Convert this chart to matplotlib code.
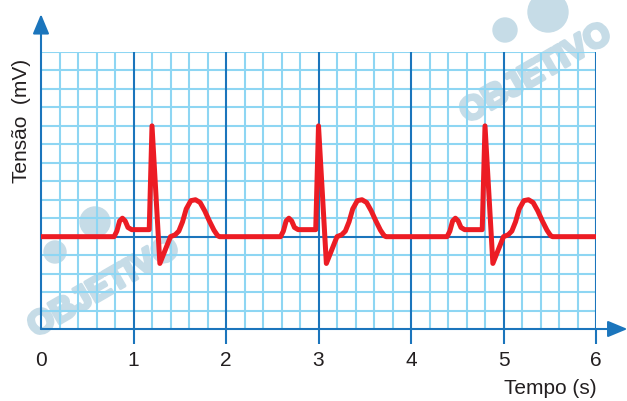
"""ECG trace on millimetre-style grid: tensão (mV) against tempo (s)."""
import matplotlib

matplotlib.use("Agg")
import matplotlib.pyplot as plt
import matplotlib.patheffects as pe
from matplotlib.patches import Circle

# One heartbeat, times relative to the R peak (s), values in grid divisions
BEAT_OFFSETS = [-0.41, -0.38, -0.35, -0.32, -0.29, -0.26, -0.22, -0.03, 0.0,
                0.085, 0.20, 0.25, 0.29, 0.33, 0.37, 0.42, 0.47, 0.52, 0.57,
                0.62, 0.67, 0.71, 0.73]
BEAT_VALUES = [0.0, 0.3, 0.85, 1.0, 0.85, 0.5, 0.38, 0.38, 6.0,
               -1.45, 0.0, 0.1, 0.3, 0.8, 1.5, 1.95, 2.0, 1.85, 1.4,
               0.85, 0.35, 0.05, 0.0]
R_PEAK_TIMES = [1.2, 3.0, 4.8]
X_TICKS = [0, 1, 2, 3, 4, 5, 6]

RED = "#ec1c24"
DARK_BLUE = "#1b75bc"
LIGHT_BLUE = "#8ed6f3"
MARK = "#c6dce7"

W, H = 627, 401


def px(x, y):
    """Pixel position (from top-left) to figure fraction."""
    return x / W, 1 - y / H


fig = plt.figure(figsize=(W / 100, H / 100), dpi=100)
left, bottom = px(41, 329)
ax = fig.add_axes([left, bottom, 555 / W, 277 / H])
ax.patch.set_visible(False)
ax.set_xlim(0, 6)
ax.set_ylim(-5, 10)
for s in ax.spines.values():
    s.set_visible(False)

# grid
for i in range(31):
    x = i * 0.2
    if i % 5 == 0:
        continue
    ax.plot([x, x], [-5, 10], color=LIGHT_BLUE, lw=1.5, zorder=1, solid_capstyle="butt")
for y in range(-4, 11):
    if y == 0:
        continue
    ax.plot([0, 6], [y, y], color=LIGHT_BLUE, lw=1.5, zorder=1, solid_capstyle="butt")
ax.plot([0, 6], [0, 0], color=DARK_BLUE, lw=1.5, zorder=2)
for x in X_TICKS[1:]:
    ax.plot([x, x], [-5, 10], color=DARK_BLUE, lw=1.5, zorder=2, solid_capstyle="butt")

# axes with arrows
arrow = dict(arrowstyle="-|>,head_length=1.2,head_width=0.5", color=DARK_BLUE,
             lw=1.5, shrinkA=0, shrinkB=0)
ax.annotate("", xy=(0, 12.05), xytext=(0, -5), arrowprops=arrow,
            annotation_clip=False, zorder=3)
ax.annotate("", xy=(6.34, -5), xytext=(0, -5), arrowprops=arrow,
            annotation_clip=False, zorder=3)

# ECG trace
t = [0.0]
v = [0.0]
for r in R_PEAK_TIMES:
    t += [r + o for o in BEAT_OFFSETS]
    v += BEAT_VALUES
t.append(6.0)
v.append(0.0)
ax.plot(t, v, color=RED, lw=3.6, zorder=5, solid_joinstyle="round",
        solid_capstyle="butt")

ax.set_xticks(X_TICKS)
ax.set_xticklabels([str(x) for x in X_TICKS], fontsize=15, family="Liberation Sans",
                   color="#231f20")
ax.tick_params(axis="x", length=11, width=1.5, color=DARK_BLUE, pad=5)
ax.xaxis.get_major_ticks()[0].tick1line.set_visible(False)
ax.set_yticks([])

fig.text(*px(597, 389), "Tempo (s)", ha="right", va="center", fontsize=15,
         family="Liberation Sans", color="#231f20")
fig.text(*px(22, 121), "Tensão  (mV)", ha="center", va="center", rotation=90,
         fontsize=15, family="Liberation Sans", color="#231f20")

# "OBJETIVO" watermarks
thick = [pe.withStroke(linewidth=2.5, foreground=MARK)]
for (cx, cy), size in (((104, 288), 24), ((536, 74), 24)):
    fig.text(*px(cx, cy), "OBJETIVO", ha="center", va="center", rotation=30,
             fontsize=size, fontweight="bold", family="Liberation Sans",
             color=MARK, zorder=-1, path_effects=thick)
for (cx, cy), r in (((95, 222), 15), ((55, 252), 11), ((548, 12), 20), ((505, 30), 12)):
    fx, fy = px(cx, cy)
    fig.patches.append(Circle((fx * W, fy * H), r, transform=None, color=MARK,
                              zorder=-1))

fig.savefig("out.png", dpi=100)
